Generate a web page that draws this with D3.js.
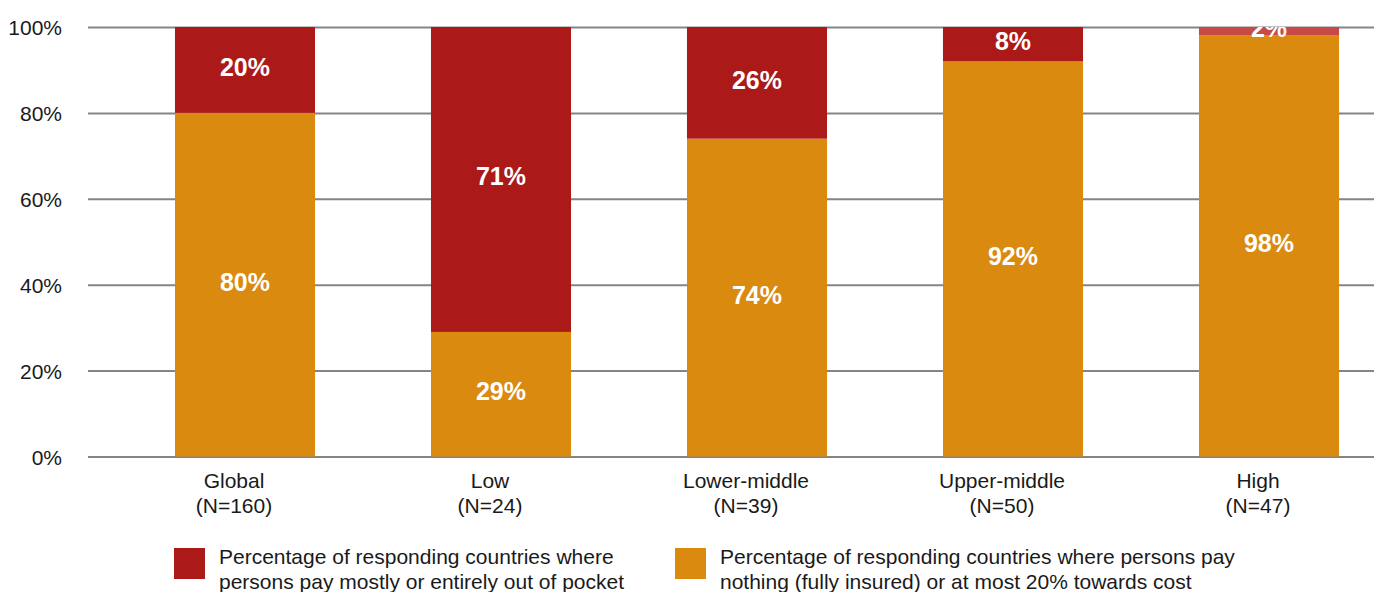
<!DOCTYPE html>
<html>
<head>
<meta charset="utf-8">
<script src="https://cdn.jsdelivr.net/npm/d3@7"></script>
<style>
  html, body { margin: 0; padding: 0; background: #fff; }
  svg { display: block; font-family: "Liberation Sans", Arial, sans-serif; }
</style>
</head>
<body>
<svg id="chart" width="1374" height="592"></svg>
<script>
// Income groups and their respondent counts
const categories = ["Global", "Low", "Lower-middle", "Upper-middle", "High"];
const counts = [160, 24, 39, 50, 47];

// Share of countries (%) per payment arrangement
const insured = [80, 29, 74, 92, 98];      // nothing or at most 20% towards cost
const outOfPocket = [20, 71, 26, 8, 2];    // mostly or entirely out of pocket

const yTicks = [0, 20, 40, 60, 80, 100];

const seriesNames = [
  ["Percentage of responding countries where", "persons pay mostly or entirely out of pocket"],
  ["Percentage of responding countries where persons pay", "nothing (fully insured) or at most 20% towards cost"]
];

const RED = "#AB1A18";
const RED_THIN = "#C84A47";
const ORANGE = "#DB8A10";

const svg = d3.select("#chart");
const plot = { left: 88, right: 1374, top: 27, bottom: 456.5 };

const x = d3.scaleBand()
  .domain(categories)
  .range([117, 1397])
  .paddingInner(0.453)
  .paddingOuter(0.2265);

const y = d3.scaleLinear().domain([0, 100]).range([plot.bottom, plot.top]);

svg.append("defs").append("clipPath").attr("id", "plotClip")
  .append("rect")
  .attr("x", plot.left).attr("y", plot.top)
  .attr("width", plot.right - plot.left).attr("height", plot.bottom - plot.top);

// Horizontal gridlines with tick labels
const yAxis = d3.axisLeft(y)
  .tickValues(yTicks)
  .tickSize(-(plot.right - plot.left))
  .tickPadding(26)
  .tickFormat(d => d + "%");

const gy = svg.append("g")
  .attr("transform", `translate(${plot.left},0)`)
  .call(yAxis);
gy.select(".domain").remove();
gy.selectAll(".tick line").attr("stroke", "#858585").attr("stroke-width", 2);
gy.selectAll(".tick text")
  .attr("fill", "#1a1a1a")
  .attr("font-size", 21)
  .attr("dy", "0.36em");

// Stacked segments: insured at the bottom, out-of-pocket above it
const rows = categories.map((c, i) => ({
  cat: c,
  segs: [
    { key: "insured", v: insured[i], y0: 0, y1: insured[i], fill: ORANGE },
    { key: "oop", v: outOfPocket[i], y0: insured[i], y1: insured[i] + outOfPocket[i],
      fill: outOfPocket[i] < 5 ? RED_THIN : RED }
  ]
}));

const bars = svg.append("g").selectAll("g")
  .data(rows)
  .join("g");

bars.selectAll("rect")
  .data(d => d.segs.map(s => ({ ...s, cat: d.cat })))
  .join("rect")
  .attr("x", d => x(d.cat))
  .attr("width", x.bandwidth())
  .attr("y", d => y(d.y1))
  .attr("height", d => y(d.y0) - y(d.y1))
  .attr("fill", d => d.fill);

// Value labels inside each segment
const labels = svg.append("g").attr("clip-path", "url(#plotClip)");
rows.forEach(r => {
  r.segs.forEach(s => {
    const fs = 25;
    labels.append("text")
      .attr("x", x(r.cat) + x.bandwidth() / 2)
      .attr("y", (y(s.y0) + y(s.y1)) / 2 + 0.358 * fs - 3)
      .attr("text-anchor", "middle")
      .attr("font-size", fs)
      .attr("font-weight", "bold")
      .attr("fill", "#fff")
      .text(s.v + "%");
  });
});

// Category labels (two lines)
const xl = svg.append("g");
categories.forEach((c, i) => {
  const cx = x(c) + x.bandwidth() / 2 - 11;
  const t = xl.append("text")
    .attr("x", cx)
    .attr("y", 488)
    .attr("text-anchor", "middle")
    .attr("font-size", 21)
    .attr("fill", "#1a1a1a");
  t.append("tspan").attr("x", cx).text(c);
  t.append("tspan").attr("x", cx).attr("dy", 25).text(`(N=${counts[i]})`);
});

// Legend
const legendItems = [
  { fill: RED, lines: seriesNames[0], x: 174 },
  { fill: ORANGE, lines: seriesNames[1], x: 675 }
];
const lg = svg.append("g");
legendItems.forEach(it => {
  lg.append("rect")
    .attr("x", it.x).attr("y", 548)
    .attr("width", 31).attr("height", 31)
    .attr("fill", it.fill);
  const t = lg.append("text")
    .attr("x", it.x + 45).attr("y", 564)
    .attr("font-size", 21)
    .attr("fill", "#1a1a1a");
  it.lines.forEach((l, k) => {
    t.append("tspan").attr("x", it.x + 45).attr("dy", k === 0 ? 0 : 25).text(l);
  });
});
</script>
</body>
</html>
